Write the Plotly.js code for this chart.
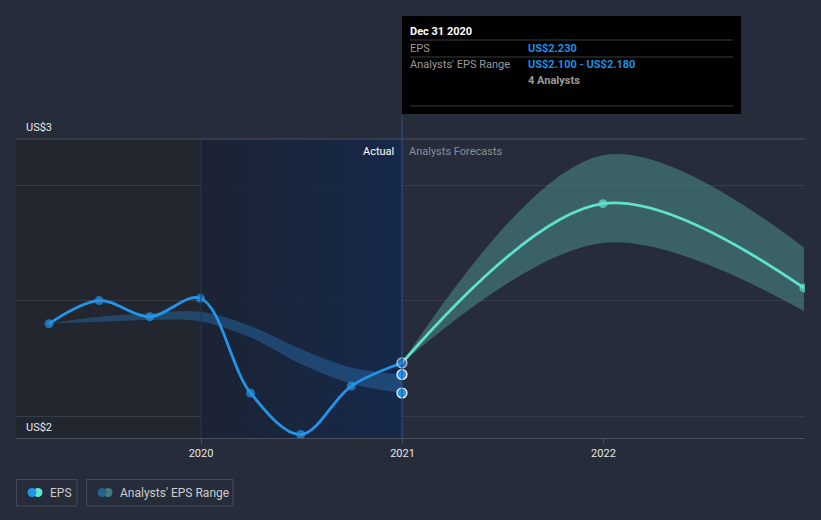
<!DOCTYPE html>
<html>
<head>
<meta charset="utf-8">
<script src="https://cdn.plot.ly/plotly-3.0.1.min.js"></script>
<style>
html,body{margin:0;padding:0;background:#262c3a;}
#chart{width:821px;height:520px;}
</style>
</head>
<body>
<div id="chart"></div>
<script>
// ---- data ----
const quarters = ['2019-03-31','2019-06-30','2019-09-30','2019-12-31','2020-03-31','2020-06-30','2020-09-30','2020-12-31'];
const epsActual = [2.40, 2.50, 2.43, 2.51, 2.10, 1.92, 2.13, 2.23];
const pastRangeHigh = [2.40, 2.43, 2.445, 2.452, 2.39, 2.29, 2.21, 2.18];
const pastRangeLow = [2.40, 2.408, 2.416, 2.41, 2.34, 2.225, 2.14, 2.10];
const forecastDates = ['2020-12-31','2021-12-31','2022-12-31'];
const epsForecast = [2.23, 2.92, 2.555];
const forecastHigh = [2.23, 3.13, 2.73];
const forecastLow = [2.23, 2.75, 2.455];
const rangeEndDate = ['2020-12-31','2020-12-31'];
const rangeEndValues = [2.18, 2.10];
const tickVals = ['2020-01-01','2021-01-01','2022-01-01'];
const tickText = ['2020','2021','2022'];
const yTicks = [2, 2.5, 3];
const yRange = [1.905, 3.2];
const pastYearSpan = ['2020-01-01','2020-12-31'];
const tooltipDate = 'Dec 31 2020';
const tooltipEps = 'US$2.230';
const tooltipRange = 'US$2.100 - US$2.180';
const tooltipAnalysts = '4 Analysts';

// ---- pixel helpers for decorations (plot area: x 16..805, y 139..438) ----
const px = x => (x - 16) / 789;
const py = y => (438 - y) / 299;

const BLUE = '#2394e8';
const TEAL = '#5fe3cc';

const traces = [
  // highlighted "past year" background
  {x:[pastYearSpan[0], pastYearSpan[1], pastYearSpan[1], pastYearSpan[0], pastYearSpan[0]],
   y:[yRange[0], yRange[0], yRange[1], yRange[1], yRange[0]],
   type:'scatter', mode:'lines', line:{width:0}, fill:'toself', fillcolor:'rgba(20,38,70,0.85)',
   fillgradient:{type:'horizontal', colorscale:[[0,'rgba(26,34,50,0.88)'],[1,'rgba(20,40,76,0.9)']]},
   hoverinfo:'skip', showlegend:false},
  // past analyst range band
  {x:quarters, y:pastRangeHigh, type:'scatter', mode:'lines', line:{width:0, shape:'spline'}, hoverinfo:'skip', showlegend:false},
  {x:quarters, y:pastRangeLow, type:'scatter', mode:'lines', line:{width:0, shape:'spline'}, fill:'tonexty',
   fillcolor:'rgba(40,110,175,0.45)', hoverinfo:'skip', showlegend:false},
  // forecast range band
  {x:forecastDates, y:forecastHigh, type:'scatter', mode:'lines', line:{width:0, shape:'spline'}, hoverinfo:'skip', showlegend:false},
  {x:forecastDates, y:forecastLow, type:'scatter', mode:'lines', line:{width:0, shape:'spline'}, fill:'tonexty',
   fillcolor:'rgba(85,175,165,0.42)', hoverinfo:'skip', showlegend:false},
  // forecast EPS line
  {x:forecastDates, y:epsForecast, type:'scatter', mode:'lines+markers', line:{color:TEAL, width:2.8, shape:'spline'},
   marker:{color:TEAL, size:[0,9,9], line:{width:0}}, showlegend:false},
  // actual EPS line
  {x:quarters, y:epsActual, type:'scatter', mode:'lines+markers', line:{color:BLUE, width:2.8, shape:'spline'},
   marker:{color:BLUE, size:[9,9,9,9,9,9,9,10], line:{color:'#ffffff', width:[0,0,0,0,0,0,0,1.2]}}, showlegend:false},
  // analyst range end points
  {x:rangeEndDate, y:rangeEndValues, type:'scatter', mode:'markers',
   marker:{color:BLUE, size:10, line:{color:'#ffffff', width:1.2}}, showlegend:false}
];

const shapes = [
  // darker left region
  {type:'rect', xref:'paper', yref:'paper', x0:0, x1:px(201), y0:0, y1:1, fillcolor:'#22262f', line:{width:0}, layer:'below'},
  // vertical lines
  {type:'line', xref:'x', yref:'paper', x0:'2020-01-01', x1:'2020-01-01', y0:0, y1:1, line:{color:'#1f3560', width:1}},
  {type:'line', xref:'x', yref:'paper', x0:'2020-12-31', x1:'2020-12-31', y0:0, y1:py(115), line:{color:'#2b5396', width:1}},
  // top border line
  {type:'line', xref:'paper', yref:'paper', x0:0, x1:1, y0:1, y1:1, line:{color:'#4a505c', width:1}},
  // tooltip box
  {type:'rect', xref:'paper', yref:'paper', x0:px(402), x1:px(741), y0:py(114), y1:py(16), fillcolor:'#000000', line:{width:0}},
  {type:'line', xref:'paper', yref:'paper', x0:px(410), x1:px(733), y0:py(40), y1:py(40), line:{color:'#3d3d3d', width:1}},
  {type:'line', xref:'paper', yref:'paper', x0:px(410), x1:px(733), y0:py(57), y1:py(57), line:{color:'#3d3d3d', width:1}},
  {type:'line', xref:'paper', yref:'paper', x0:px(410), x1:px(733), y0:py(106), y1:py(106), line:{color:'#3d3d3d', width:1}},
  // legend boxes
  {type:'rect', xref:'paper', yref:'paper', x0:px(16.5), x1:px(77), y0:py(506), y1:py(479.5), line:{color:'#444b58', width:1}, fillcolor:'rgba(0,0,0,0)'},
  {type:'rect', xref:'paper', yref:'paper', x0:px(86.5), x1:px(233), y0:py(506), y1:py(479.5), line:{color:'#444b58', width:1}, fillcolor:'rgba(0,0,0,0)'},
  // legend icons
  {type:'circle', xref:'paper', yref:'paper', xsizemode:'pixel', ysizemode:'pixel', xanchor:px(38), yanchor:py(492.5), x0:-4.5, x1:4.5, y0:-4.5, y1:4.5, fillcolor:'#5fe3cc', line:{width:0}},
  {type:'circle', xref:'paper', yref:'paper', xsizemode:'pixel', ysizemode:'pixel', xanchor:px(32), yanchor:py(492.5), x0:-4.5, x1:4.5, y0:-4.5, y1:4.5, fillcolor:'#2394e8', line:{width:0}},
  {type:'circle', xref:'paper', yref:'paper', xsizemode:'pixel', ysizemode:'pixel', xanchor:px(108), yanchor:py(492.5), x0:-4.5, x1:4.5, y0:-4.5, y1:4.5, fillcolor:'#3e7f7d', line:{width:0}},
  {type:'circle', xref:'paper', yref:'paper', xsizemode:'pixel', ysizemode:'pixel', xanchor:px(102), yanchor:py(492.5), x0:-4.5, x1:4.5, y0:-4.5, y1:4.5, fillcolor:'#285f8c', line:{width:0}}
];

const F = 'Roboto, "Open Sans", sans-serif';
const ann = (text, x, y, opts) => Object.assign({text:text, xref:'paper', yref:'paper', x:x, y:y, showarrow:false,
  xanchor:'left', yanchor:'middle', font:{family:F, size:11, color:'#dddddd'}}, opts || {});

const annotations = [
  ann('US$3', px(24), py(127), {font:{family:F, size:11, color:'#e6e6e6'}}),
  ann('US$2', px(24), py(427), {font:{family:F, size:11, color:'#e6e6e6'}}),
  {text:'Actual', xref:'x', yref:'paper', x:'2020-12-31', y:py(151), xanchor:'right', xshift:-6, yanchor:'middle', showarrow:false,
   font:{family:F, size:11, color:'#ffffff'}},
  {text:'Analysts Forecasts', xref:'x', yref:'paper', x:'2020-12-31', y:py(151), xanchor:'left', xshift:5, yanchor:'middle', showarrow:false,
   font:{family:F, size:11, color:'#8a8f99'}},
  ann('<b>' + tooltipDate + '</b>', px(408), py(31), {font:{family:F, size:11, color:'#ffffff'}}),
  ann('EPS', px(408), py(48), {font:{family:F, size:11, color:'#9a9a9a'}}),
  ann('<b>' + tooltipEps + '</b>', px(526), py(48), {font:{family:F, size:11, color:'#1e8fe0'}}),
  ann("Analysts' EPS Range", px(408), py(65), {font:{family:F, size:11, color:'#9a9a9a'}}),
  ann('<b>' + tooltipRange + '</b>', px(526), py(65), {font:{family:F, size:11, color:'#1e8fe0'}}),
  ann('<b>' + tooltipAnalysts + '</b>', px(526), py(81), {font:{family:F, size:11, color:'#9a9a9a'}}),
  ann('EPS', px(48), py(493), {font:{family:F, size:12, color:'#cccccc'}}),
  ann("Analysts' EPS Range", px(118), py(493), {font:{family:F, size:12, color:'#cccccc'}})
];

const layout = {
  width:821, height:520,
  margin:{l:16, r:16, t:139, b:82, pad:0},
  paper_bgcolor:'#262c3a', plot_bgcolor:'rgba(0,0,0,0)',
  showlegend:false,
  hovermode:false,
  font:{family:F, color:'#dddddd'},
  xaxis:{type:'date', range:['2019-01-30','2023-01-02'], tickvals:tickVals, ticktext:tickText,
    showgrid:false, zeroline:false, showline:true, linecolor:'#4a505c', linewidth:1,
    ticks:'outside', ticklen:5, tickcolor:'#4a505c', tickfont:{family:F, size:11, color:'#e6e6e6'}, fixedrange:true},
  yaxis:{range:yRange, tickvals:yTicks, showticklabels:false, showgrid:true, gridcolor:'#363c48', gridwidth:1,
    zeroline:false, showline:false, fixedrange:true},
  shapes:shapes,
  annotations:annotations
};

Plotly.newPlot('chart', traces, layout, {displayModeBar:false, staticPlot:true});
</script>
</body>
</html>
